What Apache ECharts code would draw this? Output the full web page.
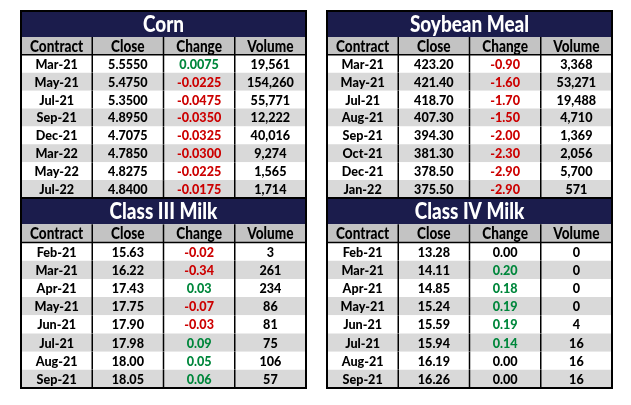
<!DOCTYPE html>
<html>
<head>
<meta charset="utf-8">
<script src="https://cdn.jsdelivr.net/npm/echarts@6/dist/echarts.min.js"></script>
<style>
  html, body { margin: 0; padding: 0; background: #fff; }
  #main { width: 631px; height: 405px; }
</style>
</head>
<body>
<div id="main"></div>
<script>
var headers = ['Contract', 'Close', 'Change', 'Volume'];

var cornContracts = ['Mar-21', 'May-21', 'Jul-21', 'Sep-21', 'Dec-21', 'Mar-22', 'May-22', 'Jul-22'];
var cornClose = [5.5550, 5.4750, 5.3500, 4.8950, 4.7075, 4.7850, 4.8275, 4.8400];
var cornChange = [0.0075, -0.0225, -0.0475, -0.0350, -0.0325, -0.0300, -0.0225, -0.0175];
var cornVolume = [19561, 154260, 55771, 12222, 40016, 9274, 1565, 1714];

var soyContracts = ['Mar-21', 'May-21', 'Jul-21', 'Aug-21', 'Sep-21', 'Oct-21', 'Dec-21', 'Jan-22'];
var soyClose = [423.20, 421.40, 418.70, 407.30, 394.30, 381.30, 378.50, 375.50];
var soyChange = [-0.90, -1.60, -1.70, -1.50, -2.00, -2.30, -2.90, -2.90];
var soyVolume = [3368, 53271, 19488, 4710, 1369, 2056, 5700, 571];

var milk3Contracts = ['Feb-21', 'Mar-21', 'Apr-21', 'May-21', 'Jun-21', 'Jul-21', 'Aug-21', 'Sep-21'];
var milk3Close = [15.63, 16.22, 17.43, 17.75, 17.90, 17.98, 18.00, 18.05];
var milk3Change = [-0.02, -0.34, 0.03, -0.07, -0.03, 0.09, 0.05, 0.06];
var milk3Volume = [3, 261, 234, 86, 81, 75, 106, 57];

var milk4Contracts = ['Feb-21', 'Mar-21', 'Apr-21', 'May-21', 'Jun-21', 'Jul-21', 'Aug-21', 'Sep-21'];
var milk4Close = [13.28, 14.11, 14.85, 15.24, 15.59, 15.94, 16.19, 16.26];
var milk4Change = [0.00, 0.20, 0.18, 0.19, 0.19, 0.14, 0.00, 0.00];
var milk4Volume = [0, 0, 0, 0, 4, 16, 16, 16];

var FONT = 'Lato';
var NAVY = '#1b1c4c';
var HEAD_BG = '#c3c3c3';
var ROW_ALT = '#d9d9d9';
var GREEN = '#00873c';
var RED = '#cc0000';
var TITLE_TOP = -1.45;

function fmtVol(v) {
  return v.toLocaleString('en-US');
}

function buildCells(title, contracts, close, change, volume, dec) {
  var cells = [];
  cells.push({ kind: 'title', text: title });
  headers.forEach(function (h, c) {
    cells.push({ kind: 'head', col: c, row: 0, text: h, color: '#000', fill: HEAD_BG });
  });
  contracts.forEach(function (ct, i) {
    var fill = i % 2 === 0 ? '#ffffff' : ROW_ALT;
    var chColor = change[i] > 0 ? GREEN : (change[i] < 0 ? RED : '#000');
    cells.push({ kind: 'cell', col: 0, row: i + 1, text: ct, color: '#000', fill: fill });
    cells.push({ kind: 'cell', col: 1, row: i + 1, text: close[i].toFixed(dec), color: '#000', fill: fill });
    cells.push({ kind: 'cell', col: 2, row: i + 1, text: change[i].toFixed(dec), color: chColor, fill: fill });
    cells.push({ kind: 'cell', col: 3, row: i + 1, text: fmtVol(volume[i]), color: '#000', fill: fill });
  });
  cells.push({ kind: 'frame' });
  return cells;
}

// condensed look: scale the text horizontally around its centre
function label(text, cx, cy, size, color, sx) {
  return {
    type: 'text', x: cx, y: cy, scaleX: sx,
    style: { text: text, x: 0, y: 0, textAlign: 'center', textVerticalAlign: 'middle',
      fill: color, font: '900 ' + size + 'px ' + FONT }
  };
}

function makeRender(cells) {
  return function (params, api) {
    var c = cells[params.dataIndex];
    var p0, p1;
    if (c.kind === 'title') {
      p0 = api.coord([0, TITLE_TOP]);
      p1 = api.coord([4, 0]);
      return {
        type: 'group',
        children: [
          { type: 'rect', shape: { x: p0[0], y: p0[1], width: p1[0] - p0[0], height: p1[1] - p0[1] },
            style: { fill: NAVY } },
          label(c.text, (p0[0] + p1[0]) / 2, (p0[1] + p1[1]) / 2 + 1, 22, '#fff', 0.86)
        ]
      };
    }
    if (c.kind === 'frame') {
      p0 = api.coord([0, TITLE_TOP]);
      p1 = api.coord([4, 9]);
      var h0 = api.coord([0, 1]);
      var h1 = api.coord([4, 1]);
      return {
        type: 'group',
        children: [
          { type: 'line', shape: { x1: h0[0], y1: h0[1], x2: h1[0], y2: h1[1] },
            style: { stroke: '#000', lineWidth: 1.5 } },
          { type: 'rect', shape: { x: p0[0], y: p0[1], width: p1[0] - p0[0], height: p1[1] - p0[1] },
            style: { fill: null, stroke: '#000', lineWidth: 2 } }
        ]
      };
    }
    p0 = api.coord([c.col, c.row]);
    p1 = api.coord([c.col + 1, c.row + 1]);
    var isHead = c.kind === 'head';
    var children = [
      { type: 'rect', shape: { x: p0[0], y: p0[1], width: p1[0] - p0[0], height: p1[1] - p0[1] },
        style: { fill: c.fill } },
      label(c.text, (p0[0] + p1[0]) / 2, (p0[1] + p1[1]) / 2 + 0.5,
        isHead ? 16 : 14, c.color, isHead ? 0.85 : 0.9)
    ];
    if (c.col > 0) {
      children.push({ type: 'line', shape: { x1: p0[0], y1: p0[1], x2: p0[0], y2: p1[1] },
        style: { stroke: '#000', lineWidth: 1.5 } });
    }
    return { type: 'group', children: children };
  };
}

var tables = [
  { cells: buildCells('Corn', cornContracts, cornClose, cornChange, cornVolume, 4), left: 21, top: 11, height: 187 },
  { cells: buildCells('Soybean Meal', soyContracts, soyClose, soyChange, soyVolume, 2), left: 327, top: 11, height: 187 },
  { cells: buildCells('Class III Milk', milk3Contracts, milk3Close, milk3Change, milk3Volume, 2), left: 21, top: 198, height: 190 },
  { cells: buildCells('Class IV Milk', milk4Contracts, milk4Close, milk4Change, milk4Volume, 2), left: 327, top: 198, height: 190 }
];

var chart = echarts.init(document.getElementById('main'));
var option = {
  backgroundColor: '#fff',
  animation: false,
  grid: [], xAxis: [], yAxis: [], series: []
};
tables.forEach(function (t, i) {
  option.grid.push({ left: t.left, top: t.top, width: 285, height: t.height });
  option.xAxis.push({ type: 'value', gridIndex: i, min: 0, max: 4, show: false });
  option.yAxis.push({ type: 'value', gridIndex: i, min: TITLE_TOP, max: 9, inverse: true, show: false });
  option.series.push({
    type: 'custom',
    xAxisIndex: i,
    yAxisIndex: i,
    renderItem: makeRender(t.cells),
    data: t.cells.map(function (c, k) { return [k]; }),
    silent: true
  });
});
chart.setOption(option);
</script>
</body>
</html>
